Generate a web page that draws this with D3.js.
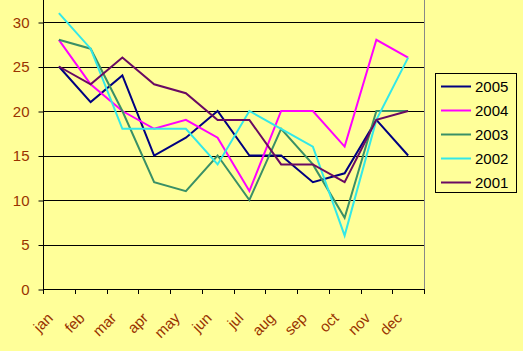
<!DOCTYPE html>
<html>
<head>
<meta charset="utf-8">
<script src="https://cdn.jsdelivr.net/npm/d3@7"></script>
<style>
  html, body { margin: 0; padding: 0; background: #FFFF99; }
  svg { display: block; }
</style>
</head>
<body>
<svg id="chart" width="523" height="351"></svg>
<script>
const months = ["jan","feb","mar","apr","may","jun","jul","aug","sep","oct","nov","dec"];
const seriesNames = ["2005","2004","2003","2002","2001"];
const values2005 = [25,21,24,15,17,20,15,15,12,13,19,15];
const values2004 = [28,23,20,18,19,17,11,20,20,16,28,26];
const values2003 = [28,27,20,12,11,15,10,18,14,8,20,20];
const values2002 = [31,27,18,18,18,14,20,18,16,6,19,26];
const values2001 = [25,23,26,23,22,19,19,14,14,12,19,20];
const yTicks = [0,5,10,15,20,25,30];
const colors = ["#000080","#FF00FF","#3A9066","#33E8E8","#6A0A62"];

const seriesValues = [values2005, values2004, values2003, values2002, values2001];

const svg = d3.select("#chart");
const left = 43, right = 424, bottom = 289, topY = 22;
const labelColor = "#993300";

const x = d3.scaleBand().domain(months).range([left, right]);
const y = d3.scaleLinear().domain([0, 30]).range([bottom, topY]);

svg.append("rect").attr("width", 523).attr("height", 351).attr("fill", "#FFFF99");

// gridlines
svg.append("g").selectAll("line").data(yTicks.filter(d => d > 0)).join("line")
  .attr("x1", left).attr("x2", right)
  .attr("y1", d => Math.round(y(d)) + 0.5).attr("y2", d => Math.round(y(d)) + 0.5)
  .attr("stroke", "#000").attr("stroke-width", 1);

// right border
svg.append("line").attr("x1", right + 0.5).attr("x2", right + 0.5)
  .attr("y1", 0).attr("y2", bottom).attr("stroke", "#888").attr("stroke-width", 1);

// y axis
const yAxis = svg.append("g").attr("transform", `translate(${left + 0.5},0.5)`)
  .call(d3.axisLeft(y).tickValues(yTicks).tickSize(5).tickPadding(9).tickSizeOuter(0));
yAxis.select(".domain").remove();
yAxis.selectAll("line").attr("stroke", "#000");
yAxis.selectAll("text").attr("fill", labelColor)
  .style("font-family", "Arial, 'Liberation Sans', sans-serif").style("font-size", "15px");
svg.append("line").attr("x1", left + 0.5).attr("x2", left + 0.5)
  .attr("y1", 0).attr("y2", bottom + 1).attr("stroke", "#000");

// x axis line
svg.append("line").attr("x1", left).attr("x2", right)
  .attr("y1", bottom + 0.5).attr("y2", bottom + 0.5).attr("stroke", "#000");
// x ticks at band boundaries
const tickPos = months.map(m => x(m)).concat([x(months[months.length - 1]) + x.bandwidth()]);
svg.append("g").selectAll("line").data(tickPos).join("line")
  .attr("x1", d => Math.round(d) + 0.5).attr("x2", d => Math.round(d) + 0.5)
  .attr("y1", bottom).attr("y2", bottom + 5).attr("stroke", "#000");
// x labels
svg.append("g").selectAll("text").data(months).join("text")
  .attr("transform", d => `translate(${x(d) + x.bandwidth() / 2 - 5},${bottom + 30}) rotate(-45)`)
  .attr("text-anchor", "end")
  .attr("fill", labelColor)
  .style("font-family", "Arial, 'Liberation Sans', sans-serif").style("font-size", "15px")
  .text(d => d);

// lines
const line = d3.line().x((d, i) => x(months[i]) + x.bandwidth() / 2).y(d => y(d));
svg.append("g").selectAll("path").data(seriesValues).join("path")
  .attr("d", d => line(d))
  .attr("fill", "none")
  .attr("stroke", (d, i) => colors[i])
  .attr("stroke-width", 2)
  .attr("stroke-linejoin", "miter");

// legend
const lg = svg.append("g");
lg.append("rect").attr("x", 435.5).attr("y", 73.5).attr("width", 81).attr("height", 119)
  .attr("fill", "#FFFF99").attr("stroke", "#000");
const rows = lg.selectAll("g").data(seriesNames).join("g")
  .attr("transform", (d, i) => `translate(0,${86.5 + i * 24})`);
rows.append("line").attr("x1", 441).attr("x2", 471).attr("y1", 0).attr("y2", 0)
  .attr("stroke", (d, i) => colors[i]).attr("stroke-width", 2);
rows.append("text").attr("x", 475).attr("y", 5.5).attr("fill", "#000")
  .style("font-family", "Arial, 'Liberation Sans', sans-serif").style("font-size", "15px")
  .text(d => d);
</script>
</body>
</html>
